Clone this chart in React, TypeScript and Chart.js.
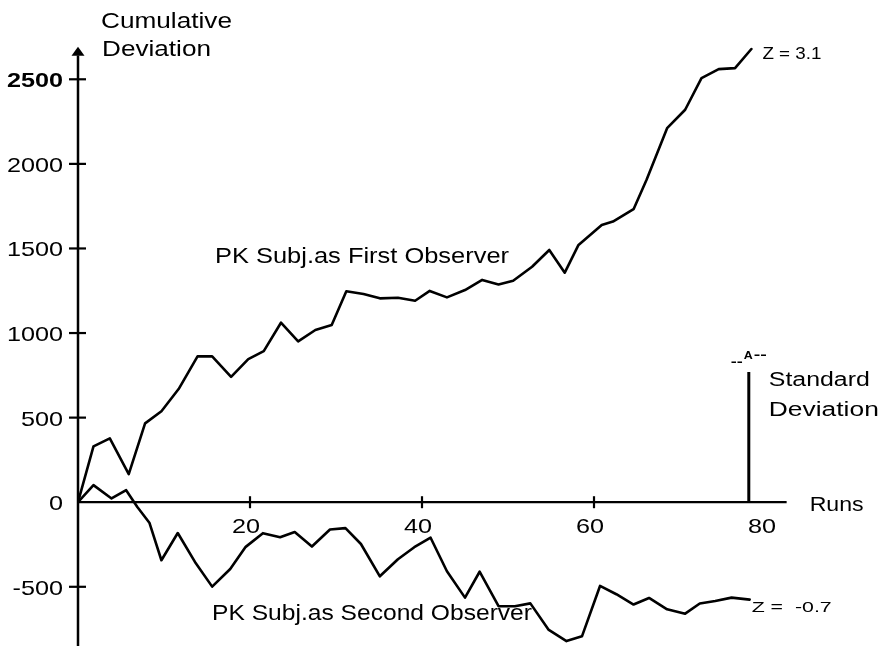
import React, { useEffect, useRef } from "react";
import { Chart, registerables } from "chart.js";

Chart.register(...registerables);

// ---- data ----
const firstRuns = [0, 1.8, 3.7, 5.9, 7.8, 9.7, 11.7, 13.9, 15.6, 17.8, 19.8, 21.6, 23.6, 25.6, 27.6, 29.5, 31.2, 33.2, 35.1, 37.2, 39.2, 40.9, 42.9, 45.0, 47.0, 48.9, 50.6, 52.8, 54.8, 56.6, 58.2, 60.9, 62.2, 64.6, 66.1, 68.5, 70.6, 72.5, 74.5, 76.4, 78.3];
const firstValues = [0, 330, 377, 166, 466, 538, 669, 862, 862, 741, 846, 893, 1061, 951, 1018, 1047, 1247, 1231, 1205, 1209, 1191, 1249, 1211, 1254, 1314, 1287, 1309, 1392, 1491, 1357, 1521, 1639, 1659, 1732, 1905, 2211, 2320, 2507, 2560, 2566, 2679];

const secondRuns = [0, 1.8, 3.9, 5.6, 6.9, 8.3, 9.7, 11.6, 13.6, 15.6, 17.7, 19.5, 21.5, 23.5, 25.2, 27.2, 29.3, 31.1, 32.9, 35.1, 37.2, 39.1, 41.0, 42.9, 45.0, 46.7, 48.9, 50.8, 52.6, 54.7, 56.8, 58.6, 60.7, 62.6, 64.6, 66.4, 68.5, 70.6, 72.3, 74.1, 76.0, 78.1];
const secondValues = [0, 101, 22, 71, -28, -121, -343, -182, -353, -499, -395, -264, -183, -207, -176, -262, -161, -153, -247, -438, -337, -266, -210, -408, -564, -411, -615, -615, -598, -753, -821, -793, -495, -544, -605, -566, -633, -659, -599, -584, -564, -576];

const stdRun = 78.0;
const stdValue = 770;

const yTickValues = [2500, 2000, 1500, 1000, 500, 0, -500];
const yTickLabels = ["2500", "2000", "1500", "1000", "500", "0", "-500"];
const xTickValues = [20, 40, 60];
const xLabelValues = [20, 40, 60, 80];
const xLabelTexts = ["20", "40", "60", "80"];

const yAxisTitle = ["Cumulative", "Deviation"];
const xAxisTitle = "Runs";
const firstLabel = "PK Subj.as First Observer";
const secondLabel = "PK Subj.as Second Observer";
const firstZ = "Z = 3.1";
const secondZ = "Z =  -0.7";
const stdLabel = ["Standard", "Deviation"];

const FONT = '"Liberation Sans", Arial, Helvetica, sans-serif';

function wideText(
  ctx: CanvasRenderingContext2D,
  text: string,
  x: number,
  y: number,
  size: number,
  width: number | null,
  align: CanvasTextAlign = "left",
  bold = false
) {
  ctx.save();
  ctx.font = `${bold ? "bold " : ""}${size}px ${FONT}`;
  ctx.textAlign = align;
  ctx.textBaseline = "alphabetic";
  ctx.fillStyle = "#000";
  const w = ctx.measureText(text).width;
  const sx = width ? width / w : 1.2;
  ctx.translate(x, y);
  ctx.scale(sx, 1);
  ctx.fillText(text, 0, 0);
  ctx.restore();
}

const axesPlugin = {
  id: "handAxes",
  beforeDatasetsDraw(chart: any) {
    const ctx: CanvasRenderingContext2D = chart.ctx;
    const xs = chart.scales.x;
    const ys = chart.scales.y;
    const x0 = xs.getPixelForValue(0);
    const y0 = ys.getPixelForValue(0);
    ctx.save();
    ctx.strokeStyle = "#000";
    ctx.fillStyle = "#000";
    // y axis
    ctx.lineWidth = 2.5;
    ctx.beginPath();
    ctx.moveTo(x0, ys.getPixelForValue(2640));
    ctx.lineTo(x0, chart.height);
    ctx.stroke();
    // arrow head
    const tipY = ys.getPixelForValue(2692);
    ctx.beginPath();
    ctx.moveTo(x0, tipY);
    ctx.lineTo(x0 - 6.5, tipY + 9);
    ctx.lineTo(x0 + 6.5, tipY + 9);
    ctx.closePath();
    ctx.fill();
    // x axis
    ctx.lineWidth = 2.2;
    ctx.beginPath();
    ctx.moveTo(x0, y0);
    ctx.lineTo(xs.getPixelForValue(82.4), y0);
    ctx.stroke();
    // y ticks
    ctx.lineWidth = 2.2;
    yTickValues.forEach((v) => {
      if (v === 0) return;
      const py = ys.getPixelForValue(v);
      ctx.beginPath();
      ctx.moveTo(x0 - 9, py);
      ctx.lineTo(x0 + 8, py);
      ctx.stroke();
    });
    // x ticks
    xTickValues.forEach((v) => {
      const px = xs.getPixelForValue(v);
      ctx.beginPath();
      ctx.moveTo(px, y0 - 6);
      ctx.lineTo(px, y0 + 6);
      ctx.stroke();
    });
    ctx.restore();

    // tick labels
    yTickValues.forEach((v, i) => {
      const py = ys.getPixelForValue(v);
      wideText(ctx, yTickLabels[i], x0 - 15, py + 8, 21, null, "right", i === 0);
    });
    xLabelValues.forEach((v, i) => {
      const px = xs.getPixelForValue(v);
      wideText(ctx, xLabelTexts[i], px - 4, y0 + 31, 21, null, "center");
    });
  },
  afterDatasetsDraw(chart: any) {
    const ctx: CanvasRenderingContext2D = chart.ctx;
    const xs = chart.scales.x;
    const ys = chart.scales.y;
    const x0 = xs.getPixelForValue(0);
    const y0 = ys.getPixelForValue(0);
    // axis titles
    wideText(ctx, yAxisTitle[0], x0 + 23, 28, 22, 131);
    wideText(ctx, yAxisTitle[1], x0 + 24, 56, 22, 109);
    wideText(ctx, xAxisTitle, xs.getPixelForValue(82.4) + 23, y0 + 9, 21, 54);
    // series labels
    wideText(ctx, firstLabel, 215, 263, 22, 294);
    wideText(ctx, secondLabel, 212, 620, 22, 320);
    // Z labels at the series ends
    const fx = xs.getPixelForValue(firstRuns[firstRuns.length - 1]);
    const fy = ys.getPixelForValue(firstValues[firstValues.length - 1]);
    wideText(ctx, firstZ, fx + 11, fy + 10, 16, 59);
    const sx = xs.getPixelForValue(secondRuns[secondRuns.length - 1]);
    const sy = ys.getPixelForValue(secondValues[secondValues.length - 1]);
    wideText(ctx, secondZ, sx + 2, sy + 12, 15, 80);
    // standard deviation marker
    const stx = xs.getPixelForValue(stdRun);
    const sty = ys.getPixelForValue(stdValue);
    wideText(ctx, "--", stx - 18, sty - 6, 13, 12, "left", true);
    wideText(ctx, "A", stx - 5, sty - 13, 11, 9, "left", true);
    wideText(ctx, "--", stx + 5, sty - 13, 13, 13, "left", true);
    wideText(ctx, stdLabel[0], stx + 20, sty + 14, 20, 101);
    wideText(ctx, stdLabel[1], stx + 20, sty + 44, 20, 110);
  },
};

export default function App() {
  const canvasRef = useRef<HTMLCanvasElement | null>(null);

  useEffect(() => {
    const canvas = canvasRef.current;
    if (!canvas) return;
    const lineStyle = {
      borderColor: "#000",
      backgroundColor: "#000",
      borderWidth: 2.6,
      pointRadius: 0,
      tension: 0,
      fill: false,
      borderJoinStyle: "round" as const,
      borderCapStyle: "round" as const,
    };
    const chart = new Chart(canvas, {
      type: "line",
      data: {
        datasets: [
          { ...lineStyle, data: firstRuns.map((x, i) => ({ x, y: firstValues[i] })) },
          { ...lineStyle, data: secondRuns.map((x, i) => ({ x, y: secondValues[i] })) },
          { ...lineStyle, borderWidth: 3, borderCapStyle: "butt" as const, data: [{ x: stdRun, y: 0 }, { x: stdRun, y: stdValue }] },
        ],
      },
      options: {
        animation: false,
        responsive: false,
        devicePixelRatio: 1,
        events: [],
        layout: { padding: { left: 78, top: 37, right: 100.5, bottom: 0 } },
        plugins: { legend: { display: false }, tooltip: { enabled: false } },
        scales: {
          x: { type: "linear", min: 0, max: 82.5, display: false },
          y: { type: "linear", min: -850, max: 2750, display: false },
        },
      },
      plugins: [axesPlugin],
    });
    return () => chart.destroy();
  }, []);

  return (
    <div style={{ position: "absolute", left: 0, top: 0, width: 888, height: 646, background: "#fff" }}>
      <canvas ref={canvasRef} width={888} height={646} style={{ display: "block" }} />
    </div>
  );
}
